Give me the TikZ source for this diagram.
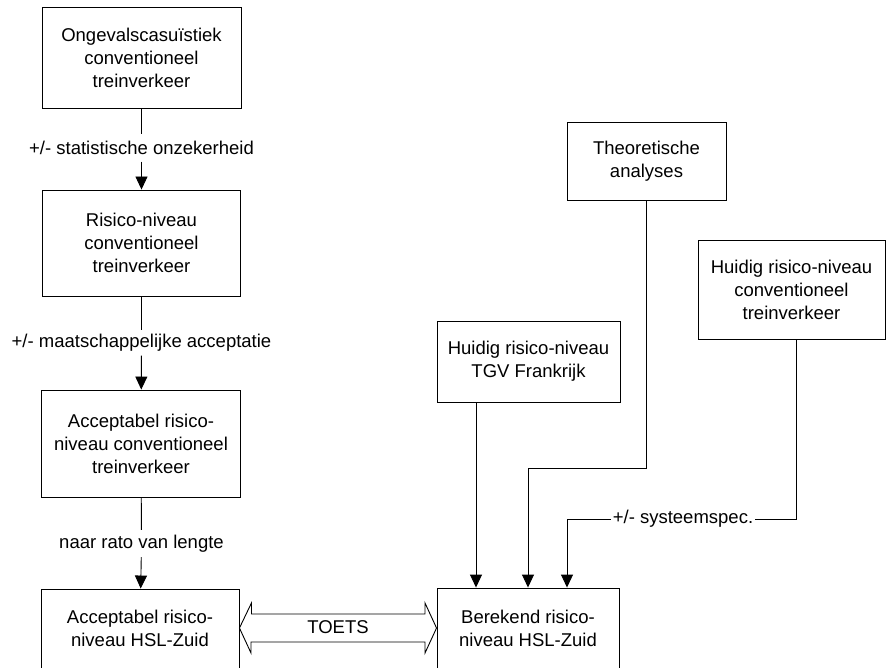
\documentclass[tikz,border=0pt]{standalone}
\usepackage{fontspec}
\setmainfont{Liberation Sans}
\usetikzlibrary{arrows.meta}
\begin{document}
\begin{tikzpicture}[x=1pt,y=-1pt,
  every node/.style={font=\fontsize{18.5}{23}\selectfont, inner sep=0pt},
  box/.style={draw, line width=0.9pt, align=center},
  lbl/.style={fill=white, inner xsep=3pt},
  conn/.style={line width=0.9pt},
  arr/.style={conn, -{Triangle[length=13pt,width=12pt]}}]
\useasboundingbox (0,0) rectangle (886,668);

% left column
\node[box, minimum width=199, minimum height=101] (b1) at (141.5,57.5)
  {Ongevalscasuïstiek\\conventioneel\\treinverkeer};
\node[box, minimum width=198, minimum height=106] (b2) at (141.5,243)
  {Risico-niveau\\conventioneel\\treinverkeer};
\node[box, minimum width=199, minimum height=107] (b3) at (141,443.5)
  {Acceptabel risico-\\niveau conventioneel\\treinverkeer};
\node[box, minimum width=198, minimum height=79] (b4) at (140,628.5)
  {Acceptabel risico-\\niveau HSL-Zuid};

% right part
\node[box, minimum width=182, minimum height=80] (b5) at (528,628)
  {Berekend risico-\\niveau HSL-Zuid};
\node[box, minimum width=183, minimum height=81] (b6) at (528.5,361.5)
  {Huidig risico-niveau\\TGV Frankrijk};
\node[box, minimum width=159, minimum height=78] (b7) at (646.5,161)
  {Theoretische\\analyses};
\node[box, minimum width=187, minimum height=99] (b8) at (791.5,289.5)
  {Huidig risico-niveau\\conventioneel\\treinverkeer};

% labels on the vertical connectors
\node[lbl, minimum height=27] (l1) at (141.5,148) {+/- statistische onzekerheid};
\node[lbl, minimum height=25] (l2) at (141.5,343) {+/- maatschappelijke acceptatie};
\node[lbl, minimum height=27] (l3) at (141.5,543.5) {naar rato van lengte};
\node[lbl, inner xsep=2pt] (l4) at (683,519) {+/- systeemspec.};

\draw[conn] (b1) -- (l1);
\draw[arr] (l1) -- (b2);
\draw[conn] (b2) -- (l2);
\draw[arr] (l2) -- (b3);
\draw[conn] (b3) -- (l3);
\draw[arr] (l3) -- (b4);

\draw[arr] ([xshift=-52.5]b6.south) -- ([xshift=-52]b5.north);
\draw[arr] (b7.south) -- ++(0,268) -| (b5.north);
\draw[conn] ([xshift=5]b8.south) |- (l4.east);
\draw[arr] (l4.west) -| ([xshift=39]b5.north);

% double arrow between the two HSL-Zuid boxes
\draw[line width=0.9pt, line join=miter]
  (b4.east |- 0,628) -- ++(12,-25) -- ++(0,11) -- (425,614) -- ++(0,-11)
  -- (b5.west |- 0,628) -- (425,653) -- ++(0,-11) -- (251,642) -- ++(0,11) -- cycle;
\node (toets) at (338,627) {TOETS};
\end{tikzpicture}
\end{document}
